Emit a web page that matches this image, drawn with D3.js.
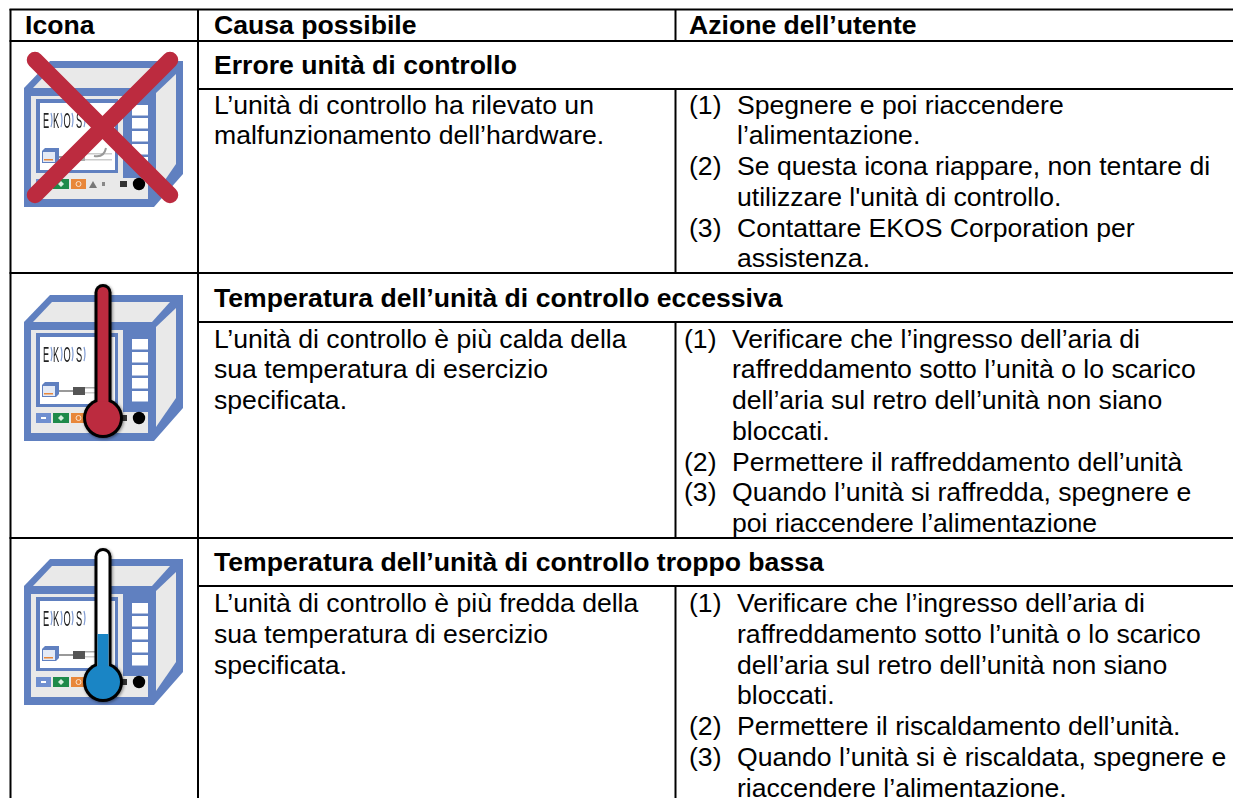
<!DOCTYPE html>
<html><head><meta charset="utf-8">
<script src="https://cdn.jsdelivr.net/npm/d3@7"></script>
<style>html,body{margin:0;padding:0;background:#fff}svg{display:block}text{font-family:"Liberation Sans",Arial,sans-serif;fill:#000}</style>
</head><body><svg id="c" width="1233" height="798"></svg>
<script>
const headers = ["Icona","Causa possibile","Azione dell’utente"];
const titles = ["Errore unità di controllo","Temperatura dell’unità di controllo eccessiva","Temperatura dell’unità di controllo troppo bassa"];
const causes = [
 ["L’unità di controllo ha rilevato un","malfunzionamento dell’hardware."],
 ["L’unità di controllo è più calda della","sua temperatura di esercizio","specificata."],
 ["L’unità di controllo è più fredda della","sua temperatura di esercizio","specificata."]];
const actions = [
 [["(1)","Spegnere e poi riaccendere"],["","l’alimentazione."],["(2)","Se questa icona riappare, non tentare di"],["","utilizzare l'unità di controllo."],["(3)","Contattare EKOS Corporation per"],["","assistenza."]],
 [["(1)","Verificare che l’ingresso dell’aria di"],["","raffreddamento sotto l’unità o lo scarico"],["","dell’aria sul retro dell’unità non siano"],["","bloccati."],["(2)","Permettere il raffreddamento dell’unità"],["(3)","Quando l’unità si raffredda, spegnere e"],["","poi riaccendere l’alimentazione"]],
 [["(1)","Verificare che l’ingresso dell’aria di"],["","raffreddamento sotto l’unità o lo scarico"],["","dell’aria sul retro dell’unità non siano"],["","bloccati."],["(2)","Permettere il riscaldamento dell’unità."],["(3)","Quando l’unità si è riscaldata, spegnere e"],["","riaccendere l’alimentazione."]]];
const rowTops = [41,273,538];
const rowSubs = [89,322,586];
const rowEnds = [273,538,798];
const firstBase = [113.5,347.5,612];
const actionIndent = [0,-5,0];
const iconKinds = ["cross","hot","cold"];
const iconTops = [61,295,559];
const FS = 26.6, LH = 30.75;

const svg = d3.select("#c");
const colX = d3.scaleOrdinal().domain(["left","c1","c2","right"]).range([10.5,198,675.5,1233]);
const textX = d3.scaleOrdinal().domain([0,1,2]).range([25,214,689]);
const lineY = d3.scaleLinear().domain([0,1]).range([0,LH]);

// grid
const grid = svg.append("g").attr("stroke","#000").attr("stroke-width",2);
const hl=(a,b,y)=>grid.append("line").attr("x1",colX(a)-1).attr("x2",colX(b)).attr("y1",y).attr("y2",y);
const vl=(x,a,b)=>grid.append("line").attr("x1",colX(x)).attr("x2",colX(x)).attr("y1",a).attr("y2",b);
hl("left","right",9.5); hl("left","right",rowTops[0]);
rowTops.slice(1).forEach(y=>hl("left","right",y));
rowSubs.forEach(y=>hl("c1","right",y));
vl("left",9,798); vl("c1",9,798);
vl("c2",9,rowTops[0]);
rowSubs.forEach((y,i)=>vl("c2",y,rowEnds[i]));

// header
svg.append("g").selectAll("text").data(headers).join("text")
 .attr("x",(d,i)=>textX(i)).attr("y",34).attr("font-size",FS).attr("font-weight","bold").text(d=>d);

rowTops.forEach((top,i)=>{
  const g = svg.append("g");
  g.append("text").attr("x",textX(1)).attr("y",rowSubs[i]-15).attr("font-size",FS).attr("font-weight","bold").text(titles[i]);
  g.append("g").selectAll("text").data(causes[i]).join("text")
    .attr("x",textX(1)).attr("y",(d,k)=>firstBase[i]+lineY(k)).attr("font-size",FS).text(d=>d);
  const a = g.append("g").selectAll("g").data(actions[i]).join("g")
    .attr("transform",(d,k)=>`translate(${textX(2)+actionIndent[i]},${firstBase[i]+lineY(k)})`);
  a.append("text").attr("font-size",FS).text(d=>d[0]);
  a.append("text").attr("x",48).attr("font-size",FS).text(d=>d[1]);
  drawIcon(svg.append("g").attr("transform",`translate(24,${iconTops[i]})`),iconKinds[i]);
});

function poly(g,pts,fill){g.append("polygon").attr("points",pts.map(p=>p.join(",")).join(" ")).attr("fill",fill);}
function rect(g,x,y,w,h,fill){g.append("rect").attr("x",x).attr("y",y).attr("width",w).attr("height",h).attr("fill",fill);}
function drawIcon(root,kind){
  const blue="#6080c0", grey="#e9e9e9", red="#bc2b3f", water="#1a85c5";
  const g=root.append("g").style("filter","blur(.45px)");
  poly(g,[[0,27],[26,0],[159,0],[159,113],[130,146],[0,146]],blue);
  poly(g,[[9,27],[28,7],[146,7],[128,27]],grey);
  poly(g,[[132,32],[152,13],[152,103],[132,132]],grey);
  rect(g,7,35,92,84,grey);
  rect(g,7,117,117,21,grey);
  rect(g,12,38,82,74,blue);
  rect(g,16,42,75,67,"#fff");
  [44,57,70,83,96].forEach(y=>rect(g,108,y,16,10.5,"#fff"));
  // logo
  [["E",19],["K",29],["O",39.5],["S",52]].forEach(([t,x])=>{
    g.append("text").attr("transform",`translate(${x},67) scale(.42,1)`).attr("font-size",22).style("fill","#222").text(t);
  });
  [[27,52],[37,52],[48,52],[60,52]].forEach(([x,y])=>g.append("path").attr("d",`M${x},${y}q2,7 0,14`).attr("fill","none").attr("stroke","#7f9bd3").attr("stroke-width",1.2));
  // small unit, cable
  poly(g,[[18,90],[21,87],[35,87],[35,99],[32,102],[18,102]],blue);
  poly(g,[[19,91],[31,91],[31,101],[19,101]],"#e4eaf6");
  rect(g,20,98,9,1.5,"#e8873a");
  g.append("line").attr("x1",35).attr("x2",50).attr("y1",96).attr("y2",96).attr("stroke","#777").attr("stroke-width",1.5);
  if(kind==="cross"){
    rect(g,58,92,30,1.5,"#ccc"); rect(g,58,98,30,1.5,"#ccc");
    g.append("path").attr("d","M70,95 q10,2 12,-8").attr("fill","none").attr("stroke","#999").attr("stroke-width",2);
    rect(g,49,92,12,8,"#aaa");
  } else {
    rect(g,49,92,12,8,"#555");
    rect(g,61,92,12,1.5,"#aaa"); rect(g,61,97,22,1.5,"#ccc");
  }
  // status strip
  rect(g,12,118,15,10,"#6f8fd0");
  rect(g,29,118,16,10,"#1e8a4a");
  rect(g,47,118,15,10,"#e8873a");
  poly(g,[[37,120],[40,123],[37,126],[34,123]],"#d8efe0");
  g.append("circle").attr("cx",54.5).attr("cy",123).attr("r",2.5).attr("fill","none").attr("stroke","#fbe3cf");
  rect(g,17,122,5,2,"#fff");
  poly(g,[[65,127],[73,127],[69,120]],"#777");
  rect(g,78,121,3,4,"#888");
  rect(g,96,120,7,6,"#333");
  g.append("circle").attr("cx",115).attr("cy",123).attr("r",6.2).attr("fill","#000");
  if(kind==="cross"){
    const line=(a,b,c,d)=>root.append("line").attr("x1",a).attr("y1",b).attr("x2",c).attr("y2",d).attr("stroke",red).attr("stroke-width",16.5).attr("stroke-linecap","round");
    line(11,-1,146,134); line(146,-1,11,134);
  } else {
    const t=root.append("g").style("filter","drop-shadow(1px 1px 1.5px rgba(0,0,0,.45))");
    const x=79, top=-2.5, by=123;
    t.append("line").attr("x1",x).attr("x2",x).attr("y1",top).attr("y2",by).attr("stroke","#000").attr("stroke-width",17).attr("stroke-linecap","round");
    t.append("circle").attr("cx",x).attr("cy",by).attr("r",20).attr("fill","#000");
    t.append("line").attr("x1",x).attr("x2",x).attr("y1",top).attr("y2",by).attr("stroke",kind==="hot"?red:"#fff").attr("stroke-width",11).attr("stroke-linecap","round");
    if(kind==="cold") t.append("line").attr("x1",x).attr("x2",x).attr("y1",75).attr("y2",by).attr("stroke",water).attr("stroke-width",11);
    t.append("circle").attr("cx",x).attr("cy",by).attr("r",17).attr("fill",kind==="hot"?red:water);
  }
}
</script></body></html>
